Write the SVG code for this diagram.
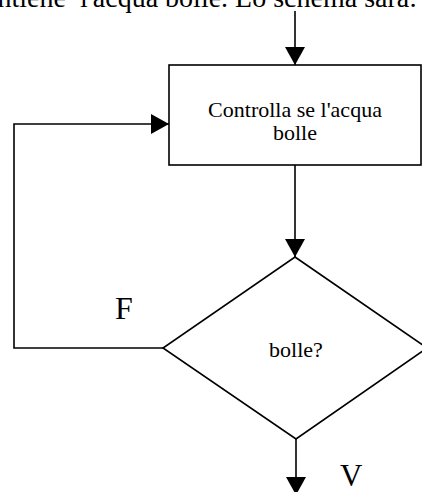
<svg xmlns="http://www.w3.org/2000/svg" width="422" height="492" viewBox="0 0 422 492">
<style>
.ln{fill:none;stroke:#000;stroke-width:1.6}
.nd{fill:#fff;stroke:#000;stroke-width:1.6}
.t{font-family:"Liberation Serif","Times New Roman",serif;fill:#000}
</style>
<defs>
<marker id="ah" markerUnits="userSpaceOnUse" markerWidth="20" markerHeight="20" refX="18" refY="10" orient="auto" viewBox="0 0 18 20">
<path d="M0,0 L18,10 L0,20 Z" fill="#000"/>
</marker>
</defs>
<rect width="422" height="492" fill="#fff"/>
<text class="t" x="-29" y="7" font-size="28">contiene</text>
<text class="t" x="80" y="7" font-size="28">l'acqua bolle. Lo schema sarà:</text>
<g id="connectors">
<path class="ln" d="M295,11 V65" marker-end="url(#ah)"/>
<path class="ln" d="M295,165 V257" marker-end="url(#ah)"/>
<path class="ln" d="M163,348 H14 V124 H169" marker-end="url(#ah)"/>
<path class="ln" d="M296,439 V495" marker-end="url(#ah)"/>
</g>
<g id="node-controlla">
<rect class="nd" x="169" y="65" width="252" height="100"/>
<text class="t" x="295" y="117" font-size="22" text-anchor="middle">Controlla se l'acqua</text>
<text class="t" x="295" y="140" font-size="22" text-anchor="middle">bolle</text>
</g>
<g id="node-bolle">
<polygon class="nd" points="295,257 427,348 296,439 163,348"/>
<text class="t" x="296" y="357" font-size="22" text-anchor="middle">bolle?</text>
</g>
<g id="labels">
<text class="t" x="115" y="319" font-size="32">F</text>
<text class="t" x="340" y="486" font-size="31">V</text>
</g>
</svg>
